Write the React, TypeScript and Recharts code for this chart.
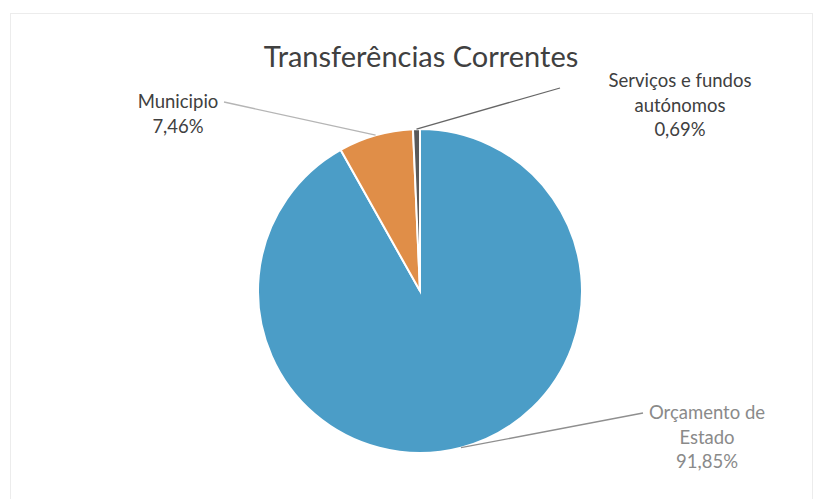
import { Cell, Pie, PieChart } from "recharts";

const categories = ["Orçamento de Estado", "Municipio", "Serviços e fundos autónomos"];
const shares = [91.85, 7.46, 0.69];
const labelLines = [["Orçamento de", "Estado"], ["Municipio"], ["Serviços e fundos", "autónomos"]];

const COLORS = ["#4b9dc7", "#e08e48", "#595959"];
const TEXT_COLORS = ["#8a8a8a", "#404040", "#404040"];
const LINE_COLORS = ["#8f8f8f", "#b5b5b5", "#666666"];
// where Excel put each data label (centre of first line) and where its leader line ends
const LABEL_POS = [
  { x: 707, y: 412, lx: 643, ly: 413 },
  { x: 178, y: 101, lx: 224, ly: 102 },
  { x: 680, y: 80, lx: 560, ly: 88 },
];

const data = categories.map((name, i) => ({ name, value: shares[i] }));

const fmt = (v: number) => v.toFixed(2).replace(".", ",") + "%";

function renderLabel(props: any) {
  const { cx, cy, midAngle, outerRadius, index, value } = props;
  const rad = (Math.PI / 180) * midAngle;
  const sx = cx + outerRadius * Math.cos(rad);
  const sy = cy - outerRadius * Math.sin(rad);
  const pos = LABEL_POS[index];
  const lines = [...labelLines[index], fmt(value)];
  return (
    <g>
      <line x1={sx} y1={sy} x2={pos.lx} y2={pos.ly} stroke={LINE_COLORS[index]} strokeWidth={1.3} />
      <text x={pos.x} y={pos.y} textAnchor="middle" dominantBaseline="central" fill={TEXT_COLORS[index]} fontSize={18.5} fontFamily="Lato">
        {lines.map((t, i) => (
          <tspan key={i} x={pos.x} dy={i === 0 ? 0 : 24.5}>
            {t}
          </tspan>
        ))}
      </text>
    </g>
  );
}

export default function App() {
  return (
    <div style={{ position: "absolute", left: 0, top: 0, width: 821, height: 499, background: "#fff", overflow: "hidden" }}>
      <div style={{ position: "absolute", left: 10, top: 13, width: 801, height: 500, border: "1px solid #ececec" }} />
      <PieChart width={821} height={499} margin={{ top: 0, right: 0, bottom: 0, left: 0 }} style={{ position: "absolute", left: 0, top: 0 }}>
        <text x={421} y={55} textAnchor="middle" dominantBaseline="central" fontSize={29} fontFamily="Lato" fill="#404040">
          Transferências Correntes
        </text>
        <Pie
          data={data}
          dataKey="value"
          nameKey="name"
          cx={420}
          cy={291}
          outerRadius={162}
          startAngle={90}
          endAngle={-270}
          stroke="#fff"
          strokeWidth={2}
          label={renderLabel}
          labelLine={false}
          isAnimationActive={false}
        >
          {data.map((d, i) => (
            <Cell key={d.name} fill={COLORS[i]} />
          ))}
        </Pie>
      </PieChart>
    </div>
  );
}
